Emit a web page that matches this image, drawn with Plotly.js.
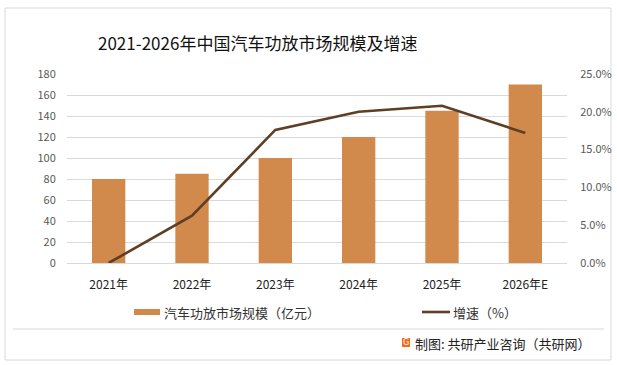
<!DOCTYPE html>
<html>
<head>
<meta charset="utf-8">
<script src="https://cdn.plot.ly/plotly-3.0.1.min.js"></script>
<style>html,body{margin:0;padding:0;background:#fff;}#chart{width:617px;height:365px;}</style>
</head>
<body>
<div id="chart"></div>
<script>
const categories = ["2021年", "2022年", "2023年", "2024年", "2025年", "2026年E"];
const marketSize = [80, 85, 100, 120, 145, 170];
const growthRate = [0, 6.25, 17.6, 20.0, 20.8, 17.2];
const leftTicks = [0, 20, 40, 60, 80, 100, 120, 140, 160, 180];
const rightTicks = [0, 5, 10, 15, 20, 25];
const rightTickLabels = ["0.0%", "5.0%", "10.0%", "15.0%", "20.0%", "25.0%"];

const W = 617, H = 365;
const L = 67, R = 567, T = 74, B = 263;
const px = x => (x - L) / (R - L);
const py = y => (B - y) / (B - T);
const FONT = '"Noto Sans CJK SC", "Noto Sans", sans-serif';

const traces = [
  {
    type: 'bar', x: categories, y: marketSize, name: '汽车功放市场规模（亿元）',
    marker: {color: '#d28a4c'}, width: 0.4, yaxis: 'y', hoverinfo: 'skip'
  },
  {
    type: 'scatter', mode: 'lines', x: categories, y: growthRate, name: '增速（%）',
    line: {color: '#5e3f26', width: 2.6}, yaxis: 'y2', hoverinfo: 'skip'
  }
];

const shapes = [
  {type: 'rect', xref: 'paper', yref: 'paper', x0: px(5), x1: px(611), y0: py(8), y1: py(360),
   line: {color: '#d9d9d9', width: 1}, fillcolor: 'rgba(0,0,0,0)', layer: 'below'},
  {type: 'line', xref: 'paper', yref: 'paper', x0: px(13), x1: px(604), y0: py(329), y1: py(329),
   line: {color: '#d9d9d9', width: 1}},
  {type: 'rect', xref: 'paper', yref: 'paper', x0: px(134), x1: px(160), y0: py(309), y1: py(315),
   line: {width: 0}, fillcolor: '#d28a4c'},
  {type: 'line', xref: 'paper', yref: 'paper', x0: px(422), x1: px(450), y0: py(312), y1: py(312),
   line: {color: '#5e3f26', width: 2.6}},
  {type: 'rect', xref: 'paper', yref: 'paper', x0: px(402), x1: px(410), y0: py(338), y1: py(347),
   line: {width: 0}, fillcolor: '#f26a1b'}
];

const annotations = [
  {text: '2021-2026年中国汽车功放市场规模及增速', xref: 'paper', yref: 'paper', x: px(257), y: py(42),
   xanchor: 'center', yanchor: 'middle', showarrow: false, font: {family: FONT, size: 17, color: '#111'}},
  {text: '汽车功放市场规模（亿元）', xref: 'paper', yref: 'paper', x: px(162), y: py(312),
   xanchor: 'left', yanchor: 'middle', showarrow: false, font: {family: FONT, size: 13, color: '#333'}},
  {text: '增速（%）', xref: 'paper', yref: 'paper', x: px(451), y: py(312),
   xanchor: 'left', yanchor: 'middle', showarrow: false, font: {family: FONT, size: 13, color: '#333'}},
  {text: 'G', xref: 'paper', yref: 'paper', x: px(406), y: py(342.5),
   xanchor: 'center', yanchor: 'middle', showarrow: false, font: {family: 'DejaVu Sans', size: 8, color: '#fff'}},
  {text: '制图: 共研产业咨询（共研网）', xref: 'paper', yref: 'paper', x: px(413), y: py(343),
   xanchor: 'left', yanchor: 'middle', showarrow: false, font: {family: FONT, size: 13, color: '#222'}}
];

const layout = {
  width: W, height: H, autosize: false,
  margin: {l: L, r: W - R, t: T, b: H - B, pad: 0},
  paper_bgcolor: '#fff', plot_bgcolor: '#fff',
  showlegend: false,
  font: {family: FONT, size: 11, color: '#595959'},
  xaxis: {
    type: 'category', showgrid: false, zeroline: false, showline: false,
    ticks: 'outside', ticklen: 11, tickcolor: 'rgba(0,0,0,0)',
    tickfont: {family: FONT, size: 12, color: '#222'}, fixedrange: true
  },
  yaxis: {
    range: [0, 180], tickvals: leftTicks, showgrid: true, gridcolor: '#d9d9d9', gridwidth: 1,
    zeroline: true, zerolinecolor: '#d9d9d9', zerolinewidth: 1, showline: false,
    ticks: 'outside', ticklen: 8, tickcolor: 'rgba(0,0,0,0)',
    tickfont: {family: FONT, size: 11, color: '#595959'}, fixedrange: true
  },
  yaxis2: {
    overlaying: 'y', side: 'right', range: [0, 25], tickvals: rightTicks, ticktext: rightTickLabels,
    showgrid: false, zeroline: false, showline: false,
    ticks: 'outside', ticklen: 10, tickcolor: 'rgba(0,0,0,0)',
    tickfont: {family: FONT, size: 11, color: '#595959'}, fixedrange: true
  },
  shapes: shapes,
  annotations: annotations
};

Plotly.newPlot('chart', traces, layout, {staticPlot: true, displayModeBar: false});
</script>
</body>
</html>
